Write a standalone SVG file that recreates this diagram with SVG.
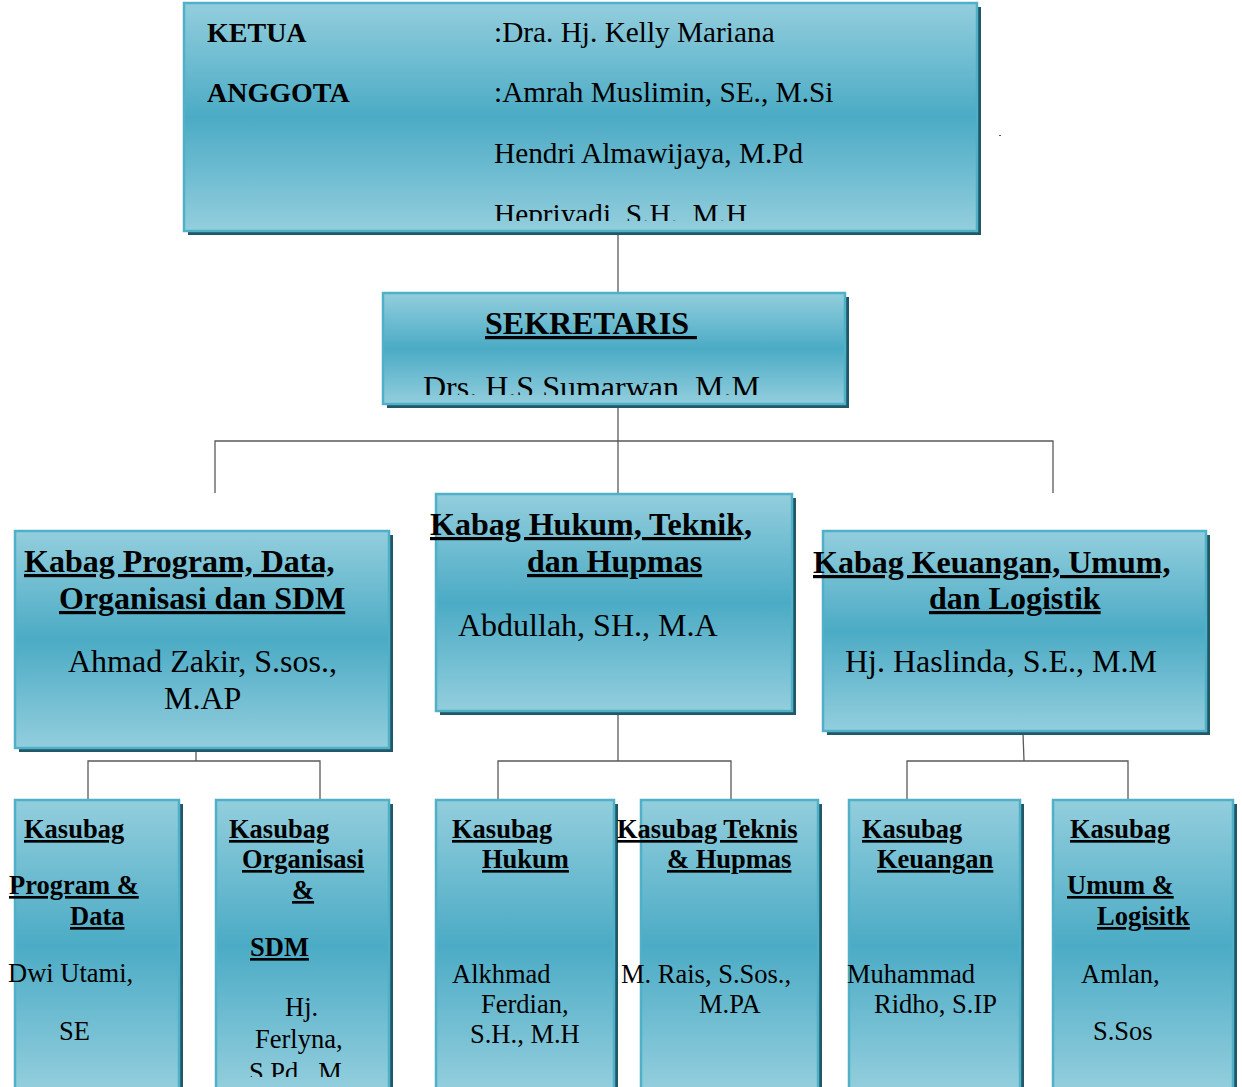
<svg xmlns="http://www.w3.org/2000/svg" width="1242" height="1087" viewBox="0 0 1242 1087">
<style>
.box{fill:url(#g);stroke:#4FB0C8;stroke-width:2.5}
.sh{fill:#215868}
.t{font-family:"Liberation Serif","Times New Roman",serif;fill:#000}
.u{font-weight:bold;text-decoration:underline;text-decoration-skip-ink:none}
.bd{font-weight:bold}
.c{stroke:#5a5a5a;stroke-width:1.3;fill:none}
.s1{font-size:28px}
.s1r{font-size:29.3px}
.s2{font-size:32px}
.s3{font-size:26.5px}
</style>
<defs>
<linearGradient id="g" x1="0" y1="0" x2="0" y2="1">
<stop offset="0" stop-color="#93CEDD"/>
<stop offset="0.5" stop-color="#4BABC5"/>
<stop offset="1" stop-color="#93CEDD"/>
</linearGradient>
<clipPath id="clipTop"><rect x="0" y="0" width="1242" height="221"/></clipPath>
<clipPath id="clipSek"><rect x="0" y="290" width="1242" height="105"/></clipPath>
<clipPath id="clipB2"><rect x="0" y="790" width="1242" height="287"/></clipPath>
</defs>
<rect width="1242" height="1087" fill="#fff"/>

<g id="connectors">
<line class="c" x1="618" y1="233" x2="618" y2="293"/>
<line class="c" x1="618" y1="405" x2="618" y2="494"/>
<polyline class="c" points="215,493 215,441 1053,441 1053,493"/>
<line class="c" x1="196" y1="750" x2="196" y2="761"/>
<polyline class="c" points="88,800 88,761 320,761 320,800"/>
<line class="c" x1="618" y1="713" x2="618" y2="761"/>
<polyline class="c" points="498,800 498,761 731,761 731,800"/>
<line class="c" x1="1023" y1="733" x2="1024" y2="761"/>
<polyline class="c" points="907,800 907,761 1128,761 1128,800"/>
</g>

<g id="ketua">
<rect class="sh" x="188" y="7" width="793" height="228"/>
<rect class="box" x="184" y="3" width="793" height="228"/>
<g clip-path="url(#clipTop)">
<text class="t bd s1" x="207" y="42">KETUA</text>
<text class="t bd s1" x="207" y="102">ANGGOTA</text>
<text class="t s1r" x="494" y="42">:Dra. Hj. Kelly Mariana</text>
<text class="t s1r" x="494" y="102">:Amrah Muslimin, SE., M.Si</text>
<text class="t s1r" x="494" y="163">Hendri Almawijaya, M.Pd</text>
<text class="t s1r" x="494" y="224">Hepriyadi, S.H., M.H</text>
</g>
</g>
<rect x="999" y="135" width="2" height="1" fill="#555"/>

<g id="sekretaris">
<rect class="sh" x="387" y="297" width="462" height="111"/>
<rect class="box" x="383" y="293" width="462" height="111"/>
<text class="t u s2" x="485" y="334" xml:space="preserve">SEKRETARIS </text>
<g clip-path="url(#clipSek)">
<text class="t s2" x="423" y="398">Drs. H.S Sumarwan, M.M</text>
</g>
</g>

<g id="kabag-program">
<rect class="sh" x="19" y="535" width="374" height="217"/>
<rect class="box" x="15" y="531" width="374" height="217"/>
<text class="t u s2" x="24" y="572">Kabag Program, Data,</text>
<text class="t u s2" x="59" y="609">Organisasi dan SDM</text>
<text class="t s2" x="68" y="672">Ahmad Zakir, S.sos.,</text>
<text class="t s2" x="164" y="709">M.AP</text>
</g>

<g id="kabag-hukum">
<rect class="sh" x="440" y="498" width="356" height="217"/>
<rect class="box" x="436" y="494" width="356" height="217"/>
<text class="t u s2" x="430" y="535">Kabag Hukum, Teknik,</text>
<text class="t u s2" x="527" y="572">dan Hupmas</text>
<text class="t s2" x="458" y="636">Abdullah, SH., M.A</text>
</g>

<g id="kabag-keuangan">
<rect class="sh" x="827" y="535" width="383" height="200"/>
<rect class="box" x="823" y="531" width="383" height="200"/>
<text class="t u s2" x="813" y="573">Kabag Keuangan, Umum,</text>
<text class="t u s2" x="929" y="609">dan Logistik</text>
<text class="t s2" x="845" y="672">Hj. Haslinda, S.E., M.M</text>
</g>

<g id="kasubag-program">
<rect class="sh" x="19" y="804" width="164" height="290"/>
<rect class="box" x="15" y="800" width="164" height="290"/>
<text class="t u s3" x="24" y="838">Kasubag</text>
<text class="t u s3" x="9" y="894">Program &amp;</text>
<text class="t u s3" x="70" y="925">Data</text>
<text class="t s3" x="8" y="982">Dwi Utami,</text>
<text class="t s3" x="59" y="1040">SE</text>
</g>

<g id="kasubag-organisasi">
<rect class="sh" x="220" y="804" width="173" height="290"/>
<rect class="box" x="216" y="800" width="173" height="290"/>
<text class="t u s3" x="229" y="838">Kasubag</text>
<text class="t u s3" x="242" y="868">Organisasi</text>
<text class="t u s3" x="292" y="899">&amp;</text>
<text class="t u s3" x="250" y="956">SDM</text>
<text class="t s3" x="285" y="1016">Hj.</text>
<text class="t s3" x="255" y="1048">Ferlyna,</text>
<g clip-path="url(#clipB2)">
<text class="t s3" x="249" y="1081">S.Pd., M</text>
</g>
</g>

<g id="kasubag-hukum">
<rect class="sh" x="440" y="804" width="178" height="290"/>
<rect class="box" x="436" y="800" width="178" height="290"/>
<text class="t u s3" x="452" y="838">Kasubag</text>
<text class="t u s3" x="482" y="868">Hukum</text>
<text class="t s3" x="452" y="983">Alkhmad</text>
<text class="t s3" x="481" y="1013">Ferdian,</text>
<text class="t s3" x="470" y="1043">S.H., M.H</text>
</g>

<g id="kasubag-teknis">
<rect class="sh" x="645" y="804" width="177" height="290"/>
<rect class="box" x="641" y="800" width="177" height="290"/>
<text class="t u s3" x="617" y="838">Kasubag Teknis</text>
<text class="t u s3" x="667" y="868">&amp; Hupmas</text>
<text class="t s3" x="621" y="983">M. Rais, S.Sos.,</text>
<text class="t s3" x="699" y="1013">M.PA</text>
</g>

<g id="kasubag-keuangan">
<rect class="sh" x="853" y="804" width="171" height="290"/>
<rect class="box" x="849" y="800" width="171" height="290"/>
<text class="t u s3" x="862" y="838">Kasubag</text>
<text class="t u s3" x="877" y="868">Keuangan</text>
<text class="t s3" x="847" y="983">Muhammad</text>
<text class="t s3" x="874" y="1013">Ridho, S.IP</text>
</g>

<g id="kasubag-umum">
<rect class="sh" x="1057" y="804" width="180" height="290"/>
<rect class="box" x="1053" y="800" width="180" height="290"/>
<text class="t u s3" x="1070" y="838">Kasubag</text>
<text class="t u s3" x="1067" y="894">Umum &amp;</text>
<text class="t u s3" x="1097" y="925">Logisitk</text>
<text class="t s3" x="1081" y="983">Amlan,</text>
<text class="t s3" x="1093" y="1040">S.Sos</text>
</g>
</svg>
